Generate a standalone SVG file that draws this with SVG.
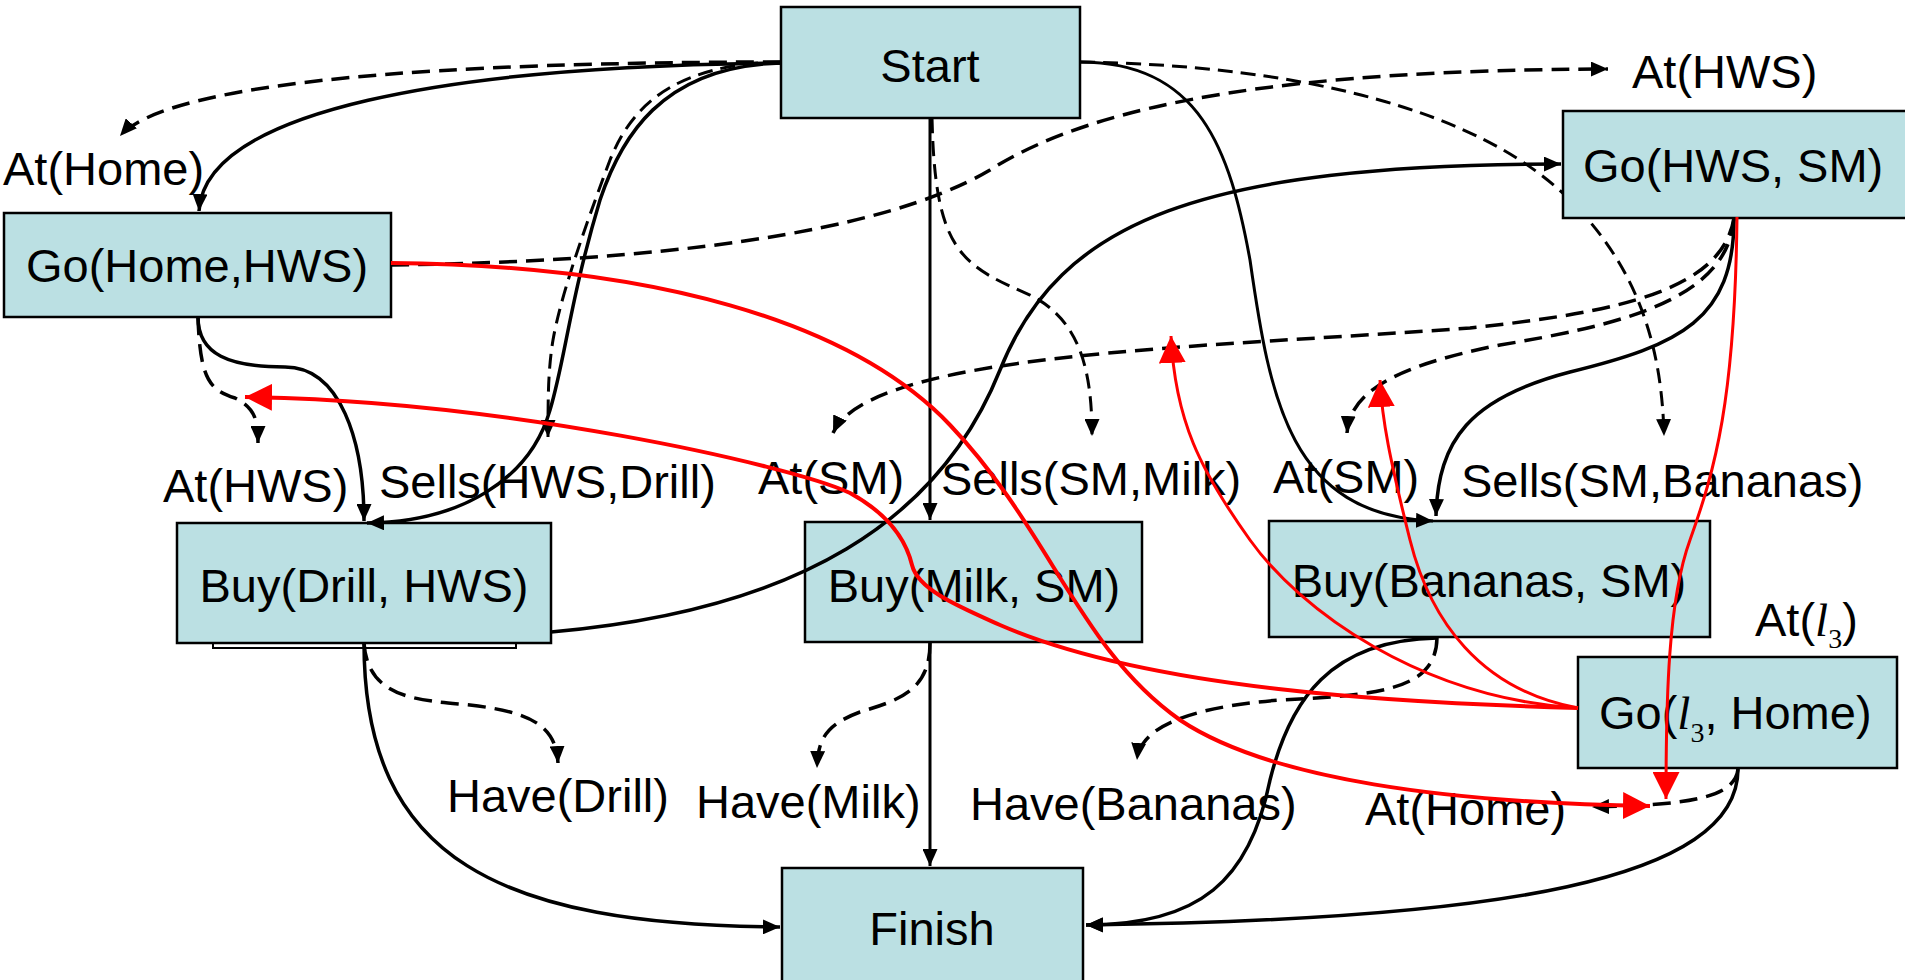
<svg xmlns="http://www.w3.org/2000/svg" width="1905" height="980" viewBox="0 0 1905 980">
  <style>
    .node rect { fill: #BBE0E3; stroke: #000; stroke-width: 2.5; }
    .t { font-family: "Liberation Sans", Arial, sans-serif; font-size: 47px; fill: #000; }
    .it { font-family: "Liberation Serif", "Times New Roman", serif; font-style: italic; }
    .sub { font-family: "Liberation Serif", "Times New Roman", serif; font-size: 28px; }
    .solid { fill: none; stroke: #000; stroke-width: 3.5; }
    .solid.thin { stroke-width: 3; }
    .dash { fill: none; stroke: #000; stroke-width: 3.5; stroke-dasharray: 18 9; }
    .dash.thin { stroke-width: 3; stroke-dasharray: 15 8; }
    .red { fill: none; stroke: #FF0000; stroke-width: 3; }
    .red.thick { stroke-width: 4; }
  </style>
  <defs>
    <marker id="ah" markerUnits="userSpaceOnUse" markerWidth="17" markerHeight="15" refX="17" refY="7.5" orient="auto">
      <path d="M0,0 L17,7.5 L0,15 z" fill="#000"/>
    </marker>
    <marker id="ahRed" markerUnits="userSpaceOnUse" markerWidth="27" markerHeight="27" refX="27" refY="13.5" orient="auto">
      <path d="M0,0 L27,13.5 L0,27 z" fill="#FF0000"/>
    </marker>
  </defs>

  <rect width="1905" height="980" fill="#fff"/>

  <!-- link that runs behind the Go(HWS, SM) box -->
  <g id="connectors-behind">
    <path class="dash thin" marker-end="url(#ah)" d="M1080,62 C1300,65 1480,110 1570,200 C1640,270 1662,350 1664,436"/>
  </g>

  <!-- actions -->
  <g id="start" class="node">
    <rect x="781" y="7" width="299" height="111"/>
    <text class="t" x="930" y="82" text-anchor="middle">Start</text>
  </g>
  <g id="go-home-hws" class="node">
    <rect x="4" y="213" width="387" height="104"/>
    <text class="t" x="197" y="282" text-anchor="middle">Go(Home,HWS)</text>
  </g>
  <g id="go-hws-sm" class="node">
    <rect x="1563" y="111" width="346" height="107"/>
    <text class="t" x="1583" y="182">Go(HWS, SM)</text>
  </g>
  <g id="buy-drill" class="node">
    <rect x="213" y="643" width="303" height="5" style="fill:#fff; stroke-width:2"/>
    <rect x="177" y="523" width="374" height="120"/>
    <text class="t" x="364" y="602" text-anchor="middle">Buy(Drill, HWS)</text>
  </g>
  <g id="buy-milk" class="node">
    <rect x="805" y="522" width="337" height="120"/>
    <text class="t" x="974" y="602" text-anchor="middle">Buy(Milk, SM)</text>
  </g>
  <g id="buy-bananas" class="node">
    <rect x="1269" y="521" width="441" height="116"/>
    <text class="t" x="1489" y="597" text-anchor="middle">Buy(Bananas, SM)</text>
  </g>
  <g id="go-l3-home" class="node">
    <rect x="1578" y="657" width="319" height="111"/>
    <text class="t" x="1599" y="729">Go(<tspan class="it">l</tspan><tspan class="sub" dy="13">3</tspan><tspan dy="-13">, Home)</tspan></text>
  </g>
  <g id="finish" class="node">
    <rect x="782" y="868" width="301" height="125"/>
    <text class="t" x="932" y="945" text-anchor="middle">Finish</text>
  </g>

  <!-- conditions -->
  <g id="conditions">
    <text class="t" x="3" y="185">At(Home)</text>
    <text class="t" x="1632" y="88">At(HWS)</text>
    <text class="t" x="163" y="502">At(HWS)</text>
    <text class="t" x="379" y="498">Sells(HWS,Drill)</text>
    <text class="t" x="758" y="494">At(SM)</text>
    <text class="t" x="941" y="495">Sells(SM,Milk)</text>
    <text class="t" x="1273" y="493">At(SM)</text>
    <text class="t" x="1461" y="497">Sells(SM,Bananas)</text>
    <text class="t" x="1755" y="636">At(<tspan class="it">l</tspan><tspan class="sub" dy="12">3</tspan><tspan dy="-12">)</tspan></text>
    <text class="t" x="447" y="812">Have(Drill)</text>
    <text class="t" x="696" y="818">Have(Milk)</text>
    <text class="t" x="970" y="820">Have(Bananas)</text>
    <text class="t" x="1365" y="825">At(Home)</text>
  </g>

  <g id="connectors">
    <!-- from Start -->
    <path class="solid" marker-end="url(#ah)" d="M781,63 C450,66 205,110 199,211"/>
    <path class="dash" marker-end="url(#ah)" d="M781,62 C450,62 170,80 120,136"/>
    <path class="solid" marker-end="url(#ah)" d="M781,63 C660,66 620,140 600,200 C570,300 565,360 550,410 C530,480 460,522 367,523"/>
    <path class="dash thin" marker-end="url(#ah)" d="M781,62 C670,64 630,110 610,160 C580,240 560,300 553,340 C548,370 548,400 548,437"/>
    <path class="solid thin" marker-end="url(#ah)" d="M930,118 L930,520"/>
    <path class="dash thin" marker-end="url(#ah)" d="M932,118 C935,250 960,265 1030,295 C1080,320 1092,370 1092,436"/>
    <path class="solid thin" marker-end="url(#ah)" d="M1080,62 C1200,62 1230,150 1250,260 C1270,400 1290,515 1433,521"/>

    <!-- from Go(Home,HWS) -->
    <path class="dash" marker-end="url(#ah)" d="M391,265 C650,262 880,235 990,170 C1100,100 1300,70 1608,69"/>
    <path class="solid" marker-end="url(#ah)" d="M198,317 C198,355 230,367 285,367 C340,367 364,440 364,521"/>
    <path class="dash" marker-end="url(#ah)" d="M198,317 C200,380 210,390 235,398 C255,408 258,420 258,443"/>

    <!-- from Buy(Drill, HWS) -->
    <path class="solid" marker-end="url(#ah)" d="M551,632 C800,610 940,520 1000,370 C1060,220 1200,165 1561,164"/>
    <path class="solid" marker-end="url(#ah)" d="M364,643 C364,860 500,925 780,927"/>
    <path class="dash" marker-end="url(#ah)" d="M364,643 C368,700 420,700 470,705 C530,712 556,725 558,763"/>

    <!-- from Go(HWS, SM) -->
    <path class="solid" marker-end="url(#ah)" d="M1734,218 C1734,320 1680,345 1570,372 C1470,398 1438,440 1436,516"/>
    <path class="dash" marker-end="url(#ah)" d="M1734,218 C1728,300 1620,325 1500,345 C1400,365 1350,390 1347,433"/>
    <path class="dash" marker-end="url(#ah)" d="M1734,218 C1722,290 1620,312 1470,328 C1200,348 870,352 833,433"/>

    <!-- from Buy(Milk, SM) -->
    <path class="solid thin" marker-end="url(#ah)" d="M930,642 L930,866"/>
    <path class="dash" marker-end="url(#ah)" d="M930,643 C930,690 900,700 860,712 C825,725 818,740 817,768"/>

    <!-- from Buy(Bananas, SM) -->
    <path class="solid" marker-end="url(#ah)" d="M1437,638 C1330,640 1290,700 1270,780 C1250,880 1200,925 1086,925"/>
    <path class="dash" marker-end="url(#ah)" d="M1437,638 C1436,690 1380,695 1280,700 C1180,708 1140,730 1137,760"/>

    <!-- from Go(l3, Home) -->
    <path class="solid" marker-end="url(#ah)" d="M1738,769 C1738,880 1500,920 1086,925"/>
    <path class="dash" marker-end="url(#ah)" d="M1738,769 C1735,800 1680,805 1592,807"/>

    <!-- threat links -->
    <path class="red thick" marker-end="url(#ahRed)" d="M391,263 C650,265 850,320 950,425 C1050,530 1080,650 1180,720 C1270,780 1450,803 1650,806"/>
    <path class="red thick" marker-end="url(#ahRed)" d="M1578,708 C1400,703 1150,690 1000,625 C960,607 918,590 912,565 C906,540 890,515 850,493 C790,465 500,400 245,397"/>
    <path class="red" marker-end="url(#ahRed)" d="M1578,708 C1420,698 1300,610 1250,540 C1200,470 1175,420 1171,336"/>
    <path class="red" marker-end="url(#ahRed)" d="M1578,708 C1480,690 1430,620 1410,540 C1390,460 1382,420 1380,380"/>
    <path class="red" marker-end="url(#ahRed)" d="M1737,217 C1735,400 1715,470 1690,540 C1668,600 1666,700 1666,799"/>
  </g>
</svg>
